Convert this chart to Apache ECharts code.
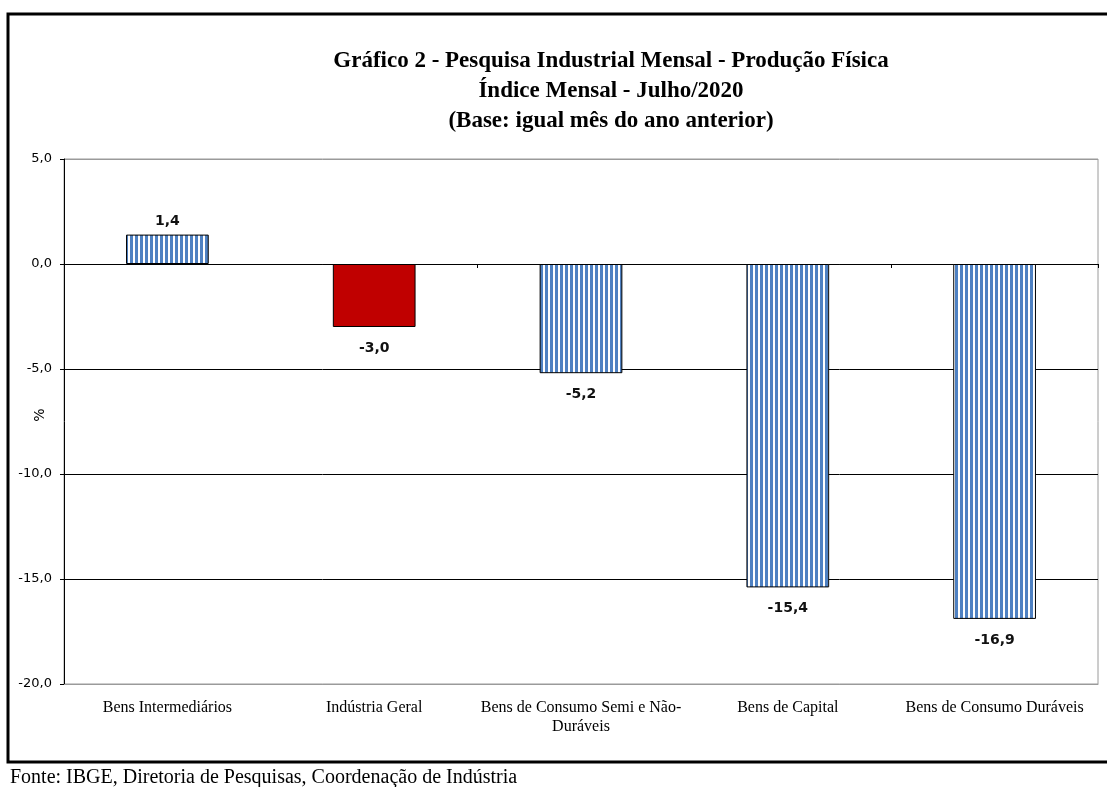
<!DOCTYPE html>
<html>
<head>
<meta charset="utf-8">
<script src="https://cdn.jsdelivr.net/npm/echarts@6/dist/echarts.min.js"></script>
<style>
  html, body { margin: 0; padding: 0; background: #fff; }
  #chart { width: 1107px; height: 787px; }
</style>
</head>
<body>
<div id="chart"></div>
<script>
// Pesquisa Industrial Mensal - julho/2020, variação % sobre igual mês do ano anterior
const categories = [
  'Bens Intermediários',
  'Indústria Geral',
  'Bens de Consumo Semi e Não-\nDuráveis',
  'Bens de Capital',
  'Bens de Consumo Duráveis'
]
const values = [1.4, -3.0, -5.2, -15.4, -16.9]
const highlightIndex = 1 // Indústria Geral em vermelho
const yTicks = { min: -20, max: 5, interval: 5 }

const serif = '"Liberation Serif", "DejaVu Serif", serif'
const sans = '"DejaVu Sans", "Liberation Sans", sans-serif'
const fmt = v => Number(v).toFixed(1).replace('.', ',')

// listras verticais azul/branco das barras
function stripes () {
  const c = document.createElement('canvas')
  c.width = 5
  c.height = 10
  const ctx = c.getContext('2d')
  ctx.fillStyle = '#ffffff'
  ctx.fillRect(0, 0, 5, 10)
  ctx.fillStyle = '#4f81c2'
  ctx.fillRect(0, 0, 3, 10)
  return c
}
const stripeFill = { image: stripes(), repeat: 'repeat' }

const chart = echarts.init(document.getElementById('chart'))

const barData = values.map((v, i) => ({
  value: v,
  itemStyle: { color: i === highlightIndex ? '#c00000' : stripeFill },
  label: { position: v >= 0 ? 'top' : 'bottom', distance: v >= 0 ? 6 : 14 }
}))

const option = {
  backgroundColor: '#fff',
  animation: false,
  graphic: [
    {
      type: 'rect',
      shape: { x: 8, y: 14, width: 1120, height: 748 },
      style: { fill: 'none', stroke: '#000', lineWidth: 3 },
      silent: true
    },
    {
      type: 'text',
      x: 611,
      y: 46,
      style: {
        text: 'Gráfico 2 - Pesquisa Industrial Mensal - Produção Física\nÍndice Mensal - Julho/2020\n(Base: igual mês do ano anterior)',
        font: 'bold 23px ' + serif,
        fill: '#000',
        align: 'center',
        lineHeight: 30
      },
      silent: true
    },
    {
      // nome do eixo y
      type: 'text',
      x: 40,
      y: 415,
      rotation: Math.PI / 2,
      style: {
        text: '%',
        font: '14px ' + sans,
        fill: '#000',
        align: 'center',
        verticalAlign: 'middle'
      },
      silent: true
    },
    {
      type: 'text',
      x: 10,
      y: 768,
      style: {
        text: 'Fonte: IBGE, Diretoria de Pesquisas, Coordenação de Indústria',
        font: '20px ' + serif,
        fill: '#000'
      },
      silent: true
    }
  ],
  grid: {
    left: 64,
    top: 159,
    right: 9,
    bottom: 103,
    outerBoundsMode: 'none',
    containLabel: false,
    show: true,
    borderColor: '#9a9a9a',
    borderWidth: 1
  },
  xAxis: [
    {
      type: 'category',
      data: categories,
      position: 'bottom',
      axisLine: { onZero: false, lineStyle: { color: '#9a9a9a' } },
      axisTick: { show: false },
      axisLabel: {
        interval: 0,
        margin: 14,
        color: '#000',
        fontFamily: serif,
        fontSize: 16,
        lineHeight: 19
      }
    },
    {
      type: 'category',
      data: categories,
      position: 'bottom',
      axisLine: { onZero: true, lineStyle: { color: '#000', width: 1 } },
      axisTick: { show: true, length: 4, lineStyle: { color: '#000' } },
      axisLabel: { show: false }
    }
  ],
  yAxis: {
    type: 'value',
    min: yTicks.min,
    max: yTicks.max,
    interval: yTicks.interval,
    axisLine: { show: true, lineStyle: { color: '#000' } },
    axisTick: { show: true, length: 4, lineStyle: { color: '#000' } },
    axisLabel: {
      formatter: fmt,
      margin: 12,
      color: '#000',
      fontFamily: sans,
      fontSize: 13
    },
    splitLine: {
      show: true,
      lineStyle: { color: ['#9a9a9a', '#000', '#000', '#000', '#000', '#9a9a9a'], width: 1 }
    }
  },
  series: [
    {
      type: 'bar',
      xAxisIndex: 0,
      data: barData,
      barWidth: '40%',
      itemStyle: { borderColor: '#000', borderWidth: 1 },
      label: {
        show: true,
        formatter: p => fmt(p.value),
        color: '#111',
        fontFamily: sans,
        fontWeight: 'bold',
        fontSize: 14
      }
    }
  ]
}

chart.setOption(option)
</script>
</body>
</html>
